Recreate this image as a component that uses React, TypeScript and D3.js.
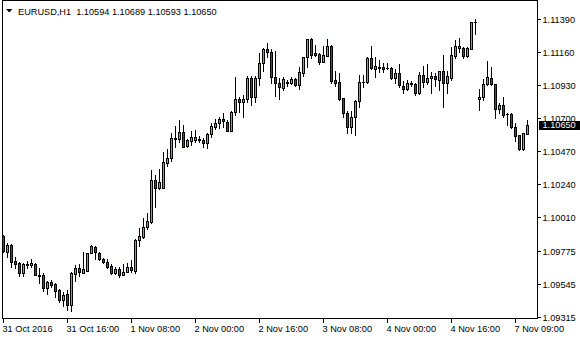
import React from "react";
import * as d3 from "d3";

const symbolTitle = "EURUSD,H1";
const lastQuote = ["1.10594", "1.10689", "1.10593", "1.10650"];

const open = [
  1.0988, 1.09769, 1.09817, 1.09706, 1.09692, 1.09622, 1.09678, 1.09678, 1.09685, 1.09608,
  1.09608, 1.09518, 1.0956, 1.09546, 1.09504, 1.09434, 1.09476, 1.09399, 1.09615, 1.09657,
  1.09622, 1.09636, 1.09762, 1.09803, 1.09762, 1.0972, 1.09699, 1.09671, 1.09622, 1.0965,
  1.09608, 1.09629, 1.09664, 1.09636, 1.09852, 1.09873, 1.09943, 1.09978, 1.1027, 1.10215,
  1.10215, 1.10389, 1.10424, 1.10556, 1.10556, 1.10605, 1.10507, 1.10542, 1.10549, 1.10549,
  1.10549, 1.10528, 1.10591, 1.1064, 1.10668, 1.10696, 1.10675, 1.10612, 1.10744, 1.10835,
  1.10814, 1.10835, 1.10981, 1.10849, 1.10981, 1.11086, 1.11183, 1.11163, 1.10988, 1.10946,
  1.10912, 1.1095, 1.10946, 1.10974, 1.10933, 1.11017, 1.11128, 1.11253, 1.11156, 1.11149,
  1.11093, 1.11135, 1.11204, 1.10967, 1.10953, 1.10842, 1.10737, 1.1064, 1.1071, 1.10821,
  1.1095, 1.10953, 1.11121, 1.11044, 1.11058, 1.11058, 1.11051, 1.11051, 1.10981, 1.11017,
  1.10926, 1.10905, 1.10946, 1.1094, 1.10877, 1.11002, 1.10953, 1.10981, 1.10995, 1.10967,
  1.1103, 1.10946, 1.10981, 1.11135, 1.1119, 1.1119, 1.11135, 1.11183, 1.11372, 1.10835,
  1.10849, 1.1094, 1.10981, 1.1094, 1.10765, 1.10793, 1.1073, 1.1073, 1.1064, 1.10584,
  1.10486, 1.10594,
];
const high = [
  1.09887, 1.09831, 1.09824, 1.09734, 1.09699, 1.09692, 1.09706, 1.0972, 1.09692, 1.09657,
  1.09622, 1.09566, 1.09573, 1.09553, 1.09511, 1.0949, 1.09504, 1.09629, 1.09678, 1.09685,
  1.09769, 1.09762, 1.09817, 1.0981, 1.09769, 1.09727, 1.0972, 1.09685, 1.09664, 1.09664,
  1.09685, 1.09692, 1.09713, 1.09859, 1.09936, 1.10006, 1.1004, 1.1034, 1.10305, 1.10347,
  1.10466, 1.10486, 1.10598, 1.10647, 1.10689, 1.10654, 1.10556, 1.10612, 1.10619, 1.10577,
  1.10563, 1.10598, 1.10668, 1.10696, 1.1071, 1.10737, 1.10689, 1.10751, 1.10988, 1.10849,
  1.10863, 1.10995, 1.10995, 1.10995, 1.11156, 1.1119, 1.11225, 1.11183, 1.1117, 1.10981,
  1.10988, 1.10967, 1.10988, 1.10981, 1.11058, 1.11128, 1.11253, 1.1126, 1.11211, 1.11156,
  1.11204, 1.11253, 1.11211, 1.1103, 1.11017, 1.10842, 1.10751, 1.10751, 1.10828, 1.11002,
  1.11002, 1.11128, 1.11204, 1.11128, 1.11107, 1.11086, 1.11086, 1.11058, 1.11044, 1.11079,
  1.1096, 1.10967, 1.1096, 1.10946, 1.11023, 1.11065, 1.11079, 1.11023, 1.11017, 1.1103,
  1.11142, 1.1103, 1.11197, 1.11246, 1.1126, 1.11197, 1.11197, 1.11372, 1.11393, 1.10905,
  1.10974, 1.111, 1.11058, 1.1094, 1.10807, 1.10849, 1.10737, 1.10737, 1.10668, 1.10584,
  1.10598, 1.10689,
];
const low = [
  1.09769, 1.09734, 1.09664, 1.09657, 1.09601, 1.09601, 1.09657, 1.09664, 1.09608, 1.09553,
  1.09497, 1.09476, 1.09525, 1.09455, 1.0942, 1.09392, 1.09364, 1.09357, 1.09566, 1.09601,
  1.09622, 1.09636, 1.09762, 1.0972, 1.09713, 1.09692, 1.09657, 1.09615, 1.09615, 1.09594,
  1.09608, 1.09629, 1.09629, 1.09622, 1.0981, 1.09866, 1.09929, 1.09971, 1.10082, 1.10208,
  1.10215, 1.10368, 1.10403, 1.105, 1.10535, 1.105, 1.105, 1.10514, 1.10535, 1.10535,
  1.105, 1.10493, 1.1057, 1.10626, 1.10633, 1.1064, 1.10612, 1.10612, 1.10723, 1.10744,
  1.1071, 1.10814, 1.10793, 1.10814, 1.10933, 1.1103, 1.11128, 1.10946, 1.10856, 1.10835,
  1.10898, 1.10926, 1.1094, 1.10926, 1.10905, 1.10995, 1.11058, 1.11121, 1.11135, 1.11079,
  1.11093, 1.11135, 1.10946, 1.10926, 1.10828, 1.1071, 1.10598, 1.10598, 1.10584, 1.10779,
  1.10919, 1.10946, 1.11044, 1.10988, 1.11023, 1.11023, 1.11044, 1.10974, 1.10946, 1.10919,
  1.10877, 1.10898, 1.10926, 1.10863, 1.1087, 1.10919, 1.1094, 1.10877, 1.10926, 1.10898,
  1.10779, 1.10877, 1.10967, 1.11121, 1.11163, 1.11121, 1.11128, 1.11183, 1.11288, 1.10758,
  1.10828, 1.10933, 1.10933, 1.10703, 1.10737, 1.1071, 1.10654, 1.10633, 1.10542, 1.1048,
  1.1048, 1.10593,
];
const close = [
  1.09776, 1.09817, 1.09699, 1.09685, 1.09622, 1.09685, 1.09685, 1.09692, 1.09608, 1.09601,
  1.09518, 1.0956, 1.09539, 1.09497, 1.09434, 1.09469, 1.09399, 1.09622, 1.09657, 1.09629,
  1.0965, 1.09762, 1.0981, 1.09769, 1.0972, 1.09699, 1.09664, 1.09622, 1.0965, 1.09608,
  1.09629, 1.09664, 1.09643, 1.09852, 1.0988, 1.09943, 1.09985, 1.1027, 1.10215, 1.10256,
  1.10396, 1.10424, 1.10563, 1.10563, 1.10605, 1.105, 1.10549, 1.1057, 1.1057, 1.10556,
  1.10528, 1.10591, 1.10647, 1.10668, 1.10696, 1.10682, 1.10612, 1.10744, 1.10835, 1.10814,
  1.10835, 1.10981, 1.10849, 1.10981, 1.11086, 1.11183, 1.11163, 1.10988, 1.10946, 1.10919,
  1.10974, 1.10946, 1.10974, 1.10933, 1.11023, 1.11128, 1.11253, 1.11142, 1.11142, 1.11093,
  1.11142, 1.11204, 1.1096, 1.10946, 1.10835, 1.10737, 1.1064, 1.1071, 1.10821, 1.10953,
  1.10955, 1.11121, 1.11051, 1.11065, 1.11051, 1.11044, 1.11048, 1.10981, 1.11017, 1.10933,
  1.10905, 1.10946, 1.1094, 1.10877, 1.11002, 1.10953, 1.10981, 1.10995, 1.10974, 1.1103,
  1.10946, 1.10995, 1.11142, 1.11204, 1.11204, 1.11135, 1.1119, 1.11372, 1.11368, 1.10849,
  1.1094, 1.10988, 1.1094, 1.10765, 1.10793, 1.10723, 1.10728, 1.1064, 1.10577, 1.10486,
  1.10598, 1.1065,
];

const priceTicks = ["1.11390", "1.11160", "1.10930", "1.10700", "1.10470", "1.10240", "1.10010", "1.09775", "1.09545", "1.09315"];
const timeTickIndex = [0, 16, 32, 48, 64, 80, 96, 112, 128];
const timeTickLabels = [
  "31 Oct 2016", "31 Oct 16:00", "1 Nov 08:00", "2 Nov 00:00", "2 Nov 16:00",
  "3 Nov 08:00", "4 Nov 00:00", "4 Nov 16:00", "7 Nov 09:00",
];
const currentPrice = "1.10650";

const W = 580;
const H = 340;
const FONT = "'Liberation Sans', Arial, sans-serif";
const FS = 9.2;

export default function App() {
  const n = open.length;
  const x = d3.scaleLinear().domain([0, 131]).range([3.5, 527.5]);
  const y = d3.scaleLinear().domain([1.09315, 1.1139]).range([317.0, 19.3]);
  const R = (v: number) => Math.round(y(v));

  const candles = d3.range(n).map((i) => {
    const cx = x(i);
    const o = open[i], c = close[i], h = high[i], l = low[i];
    const yo = R(o), yc = R(c);
    const top = Math.min(yo, yc), bot = Math.max(yo, yc);
    const up = c >= o;
    return (
      <g key={i}>
        <line x1={cx} x2={cx} y1={R(h)} y2={R(l) + 1} stroke="#000" strokeWidth={1} />
        {bot - top < 1 ? (
          <line x1={cx - 1.5} x2={cx + 1.5} y1={top + 0.5} y2={top + 0.5} stroke="#000" strokeWidth={1} />
        ) : (
          <rect x={cx - 1} y={top + 0.5} width={2} height={bot - top} fill={up ? "#00ff00" : "#ff0000"} stroke="#000" strokeWidth={1} />
        )}
      </g>
    );
  });

  const curY = y(+currentPrice);

  return (
    <svg width={W} height={H} style={{ position: "absolute", left: 0, top: 0, background: "#fff" }} shapeRendering="crispEdges">
      <rect x={0} y={0} width={W} height={H} fill="#fff" />
      {candles}
      {/* border */}
      <line x1={2.5} x2={2.5} y1={0} y2={319} stroke="#000" />
      <line x1={2} x2={538} y1={0.5} y2={0.5} stroke="#000" />
      <line x1={537.5} x2={537.5} y1={0} y2={319} stroke="#000" />
      <line x1={2} x2={538} y1={318.5} y2={318.5} stroke="#000" />
      {/* price axis */}
      {priceTicks.map((t) => {
        const yy = Math.round(y(+t)) + 0.5;
        return (
          <g key={t}>
            <line x1={537} x2={541} y1={yy} y2={yy} stroke="#000" />
            <text x={542.5} y={yy + 3.3} fontFamily={FONT} fontSize={FS} fill="#000" shapeRendering="auto">{t}</text>
          </g>
        );
      })}
      <rect x={539} y={Math.round(curY) - 4.5} width={41} height={9} fill="#000" />
      <text x={542.5} y={Math.round(curY) + 3.3} fontFamily={FONT} fontSize={FS} fill="#fff">{currentPrice}</text>
      {/* time axis */}
      {timeTickIndex.map((ti, k) => {
        const xx = x(ti);
        return (
          <g key={ti}>
            <line x1={xx} x2={xx} y1={318} y2={323} stroke="#000" />
            <text x={xx - 1} y={331.5} fontFamily={FONT} fontSize={FS} fill="#000">{timeTickLabels[k]}</text>
          </g>
        );
      })}
      {/* title */}
      <polygon points="6,9 12.5,9 9.25,12.5" fill="#000" shapeRendering="auto" />
      <text x={18} y={14.5} fontFamily={FONT} fontSize={FS} fill="#000" xmlSpace="preserve">
        {symbolTitle + "  " + lastQuote.join(" ")}
      </text>
    </svg>
  );
}
